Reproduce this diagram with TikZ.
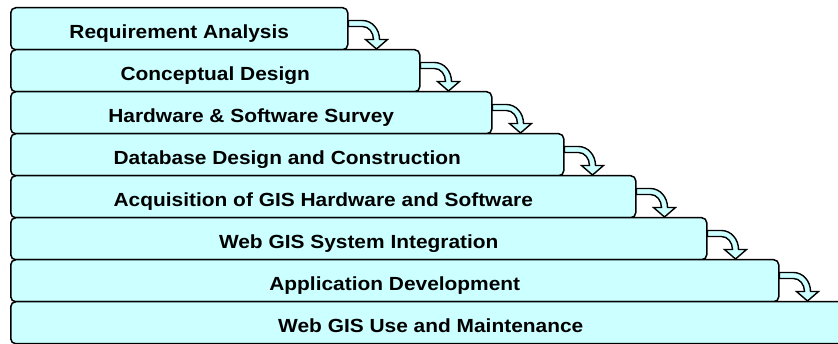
\documentclass[tikz,border=0pt]{standalone}
\usepackage{fontspec}
\setmainfont{Liberation Sans}[FakeStretch=1.1]
\usetikzlibrary{calc}
\definecolor{stagefill}{HTML}{CCFFFF}
\tikzset{
  stagebox/.style={draw=black, line width=1.5pt, fill=stagefill, rounded corners=5pt,
    rectangle, anchor=north west, minimum height=42pt, inner sep=0pt,
    text height=19pt, text depth=0pt,
    font=\fontsize{19}{22}\selectfont\bfseries},
  flowarrow/.style={draw=black, line width=1.4pt, fill=stagefill, line join=miter}
}
\begin{document}
\begin{tikzpicture}[x=1pt, y=-1pt]
\clip (0,0) rectangle (838,344);
\fill[white] (0,0) rectangle (838,344);
% stacked stages, each one step wider than the one above
\node[stagebox, minimum width=337pt] (s1) at (10,7)   {Requirement Analysis};
\node[stagebox, minimum width=409pt] (s2) at (10,49)  {Conceptual Design};
\node[stagebox, minimum width=481pt] (s3) at (10,91)  {Hardware \& Software Survey};
\node[stagebox, minimum width=553pt] (s4) at (10,133) {Database Design and Construction};
\node[stagebox, minimum width=625pt] (s5) at (10,175) {Acquisition of GIS Hardware and Software};
\node[stagebox, minimum width=696pt] (s6) at (10,217) {Web GIS System Integration};
\node[stagebox, minimum width=768pt] (s7) at (10,259) {Application Development};
\node[stagebox, minimum width=840pt] (s8) at (10,301) {Web GIS Use and Maintenance};
% curved block arrows from each stage down onto the next
\foreach \i in {1,...,7}{
  \coordinate (c) at (s\i.north east);
  \path[flowarrow]
    ($(c)+(0,13.5)$) -- ($(c)+(14,13.5)$)
    arc[start angle=-90, end angle=0, x radius=17, y radius=19]
    -- ($(c)+(39,32.5)$) -- ($(c)+(28,42)$) -- ($(c)+(17,32.5)$) -- ($(c)+(25,32.5)$)
    arc[start angle=0, end angle=-90, x radius=11, y radius=13]
    -- ($(c)+(0,19.5)$) -- cycle;
}
\end{tikzpicture}
\end{document}
